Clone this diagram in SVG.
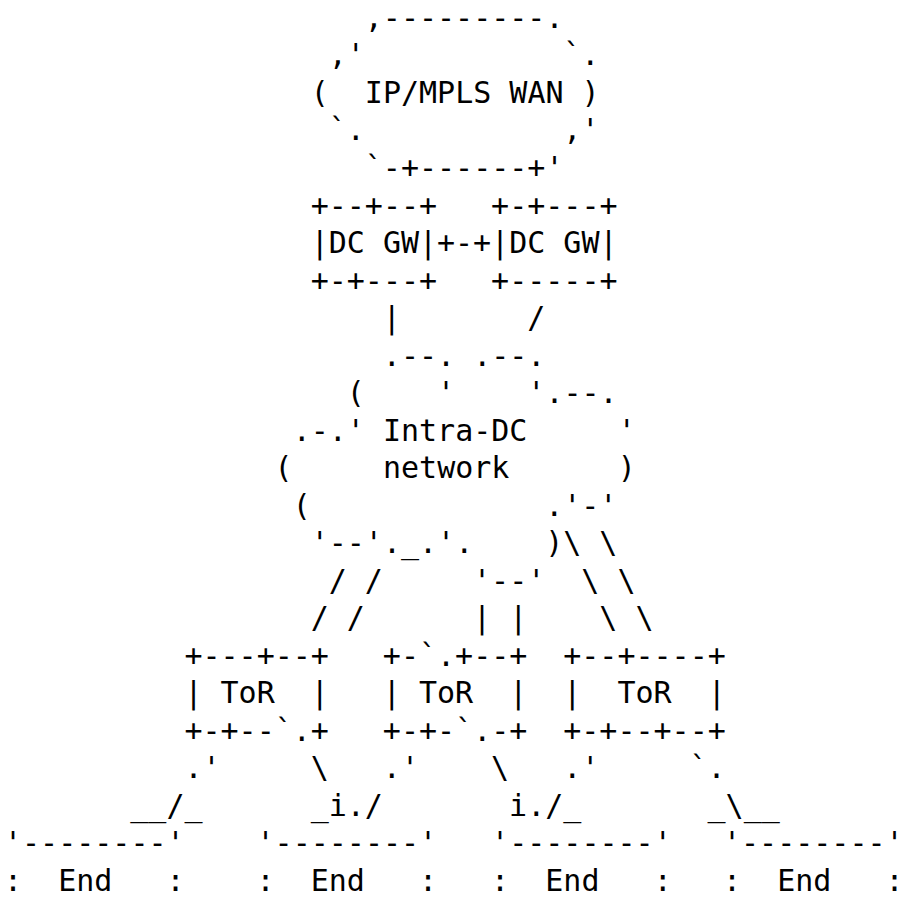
<svg xmlns="http://www.w3.org/2000/svg" width="904" height="898" viewBox="0 0 904 898" xml:space="preserve">
<style>
text{font-family:"DejaVu Sans Mono","Liberation Mono",monospace;font-size:30px;fill:#000;white-space:pre}
</style>
<rect width="904" height="898" fill="#fff"/>
<g id="wan">
<text x="364.8" y="27.9">,---------.</text>
<text x="328.72" y="65.42">,'</text>
<text x="563.24" y="65.42">`.</text>
<text x="310.68" y="102.94">(  IP/MPLS WAN )</text>
<text x="328.72" y="140.46">`.</text>
<text x="563.24" y="140.46">,'</text>
<text x="364.8" y="177.98">`-+------+'</text>
</g>
<g id="dcgw1">
<text x="310.68" y="215.5">+--+--+</text>
<text x="310.68" y="253.02">|DC GW|</text>
<text x="310.68" y="290.54">+-+---+</text>
</g>
<g id="dcgw2">
<text x="491.08" y="215.5">+-+---+</text>
<text x="491.08" y="253.02">|DC GW|</text>
<text x="491.08" y="290.54">+-----+</text>
</g>
<g id="intradc">
<text x="382.84" y="365.58">.--. .--.</text>
<text x="346.76" y="403.1">(    '    '.--.</text>
<text x="292.64" y="440.62">.-.' Intra-DC     '</text>
<text x="274.6" y="478.14">(     network      )</text>
<text x="292.64" y="515.66">(</text>
<text x="545.2" y="515.66">.'-'</text>
<text x="310.68" y="553.18">'--'._.'.</text>
<text x="545.2" y="553.18">)</text>
<text x="473.04" y="590.7">'--'</text>
</g>
<g id="tor1">
<text x="184.4" y="665.74">+---+--+</text>
<text x="184.4" y="703.26">| ToR  |</text>
<text x="184.4" y="740.78">+-+--`.+</text>
</g>
<g id="tor2">
<text x="382.84" y="665.74">+-`.+--+</text>
<text x="382.84" y="703.26">| ToR  |</text>
<text x="382.84" y="740.78">+-+-`.-+</text>
</g>
<g id="tor3">
<text x="563.24" y="665.74">+--+----+</text>
<text x="563.24" y="703.26">|  ToR  |</text>
<text x="563.24" y="740.78">+-+--+--+</text>
</g>
<g id="end1">
<text x="4" y="853.34">'--------'</text>
<text x="4" y="890.86">:  End   :</text>
</g>
<g id="end2">
<text x="256.56" y="853.34">'--------'</text>
<text x="256.56" y="890.86">:  End   :</text>
</g>
<g id="end3">
<text x="491.08" y="853.34">'--------'</text>
<text x="491.08" y="890.86">:  End   :</text>
</g>
<g id="end4">
<text x="723" y="853.34">'--------'</text>
<text x="723" y="890.86">:  End   :</text>
</g>
<g id="connectors">
<text x="437" y="253.02">+-+</text>
<text x="382.84" y="328.06">|</text>
<text x="527.16" y="328.06">/</text>
<text x="563.24" y="553.18">\ \</text>
<text x="328.72" y="590.7">/ /</text>
<text x="581.28" y="590.7">\ \</text>
<text x="310.68" y="628.22">/ /</text>
<text x="473.04" y="628.22">| |</text>
<text x="599.32" y="628.22">\ \</text>
<text x="184.4" y="778.3">.'</text>
<text x="310.68" y="778.3">\</text>
<text x="382.84" y="778.3">.'</text>
<text x="491.08" y="778.3">\</text>
<text x="563.24" y="778.3">.'</text>
<text x="689.52" y="778.3">`.</text>
<text x="130.28" y="815.82">__/_</text>
<text x="310.68" y="815.82">_i./</text>
<text x="509.12" y="815.82">i./_</text>
<text x="707.56" y="815.82">_\__</text>
</g>
</svg>
